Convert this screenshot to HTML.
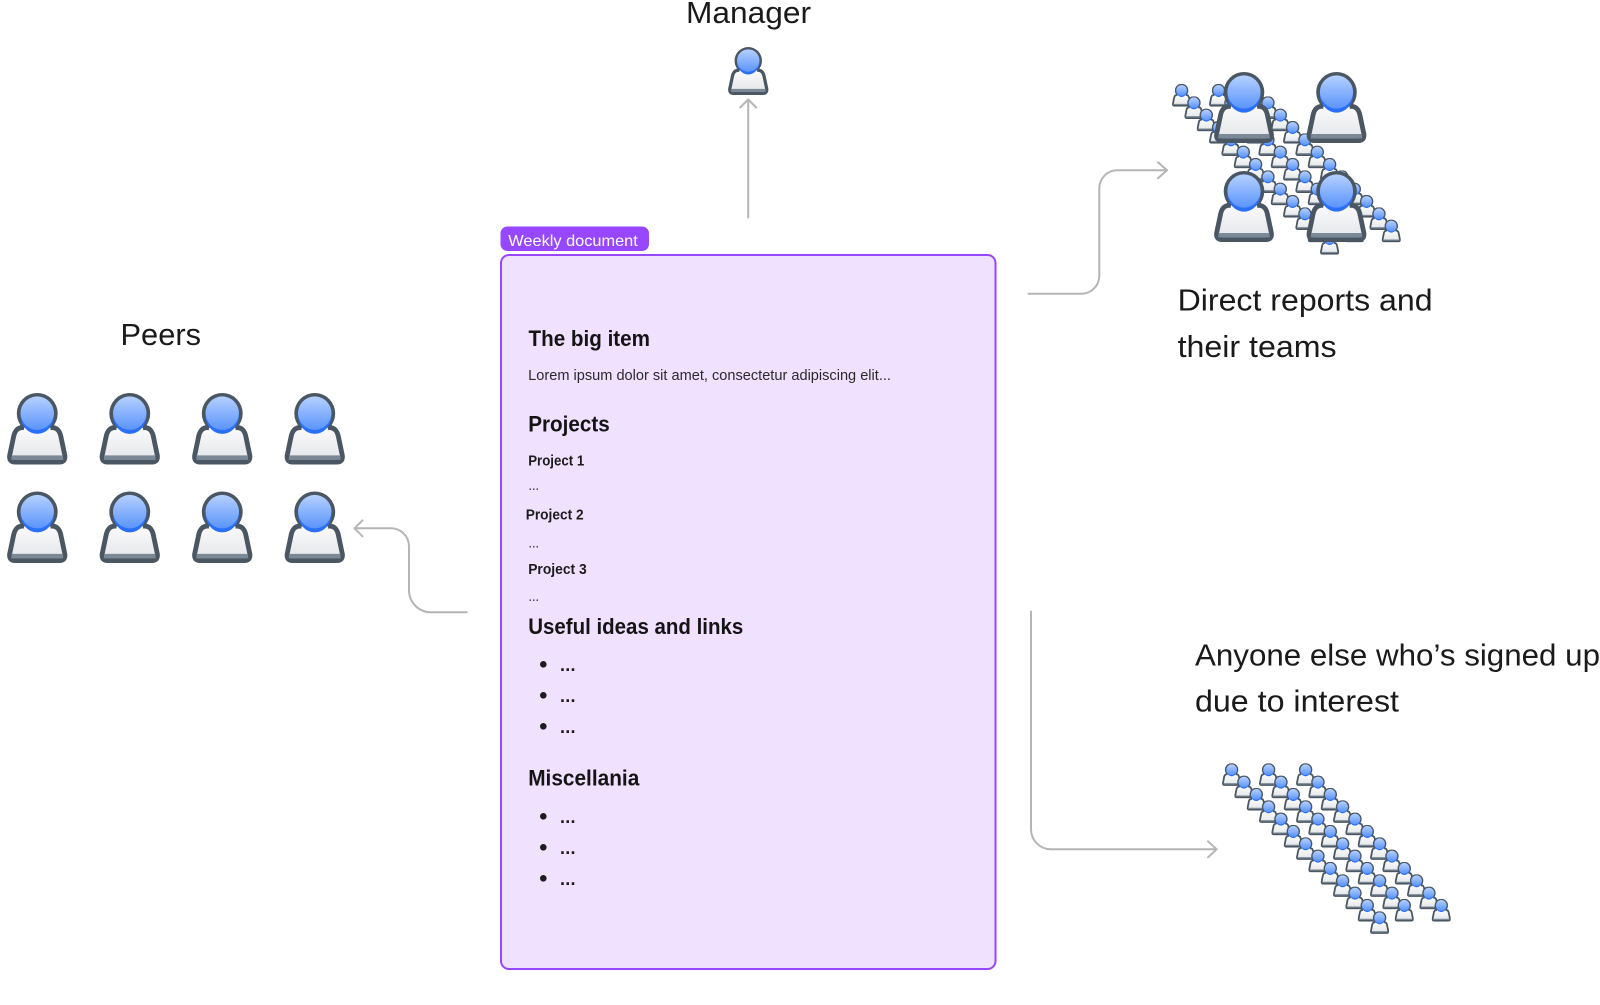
<!DOCTYPE html>
<html lang="en">
<head>
<meta charset="utf-8">
<title>Weekly document</title>
<style>
html,body{margin:0;padding:0;background:#fff;width:1600px;height:1005px;overflow:hidden}
svg{display:block}
text{font-family:"Liberation Sans",sans-serif;fill:#1a1a1a}
.h{font-size:22px;font-weight:700;fill:#141414}
.b{font-size:14.5px;font-weight:700;fill:#1c1c1c}
.d{font-size:18px;font-weight:700;fill:#1c1c1c}
.t{font-size:14.5px;fill:#2a2a2a}
.l{font-size:31px}
.arrow{fill:none;stroke:#b5b5b5;stroke-width:2;stroke-linecap:round;stroke-linejoin:round}
</style>
</head>
<body>
<svg width="1600" height="1005" viewBox="0 0 1600 1005" xmlns="http://www.w3.org/2000/svg">
<defs>
<linearGradient id="hg" gradientUnits="userSpaceOnUse" x1="0" y1="3" x2="0" y2="36"><stop offset="0" stop-color="#b6d1ff"/><stop offset="1" stop-color="#5c95fb"/></linearGradient>
<linearGradient id="bg" gradientUnits="userSpaceOnUse" x1="0" y1="34" x2="0" y2="66"><stop offset="0" stop-color="#fbfbfc"/><stop offset="1" stop-color="#e4e6e9"/></linearGradient>
<symbol id="p" viewBox="0 0 60 71">
<circle cx="30" cy="20.3" r="20.3" fill="#4a5763"/>
<path d="M17,34.5 C10.5,33.5 7.5,38 6.5,43.5 L2.6,62 Q1.9,68.6 8,68.6 H52 Q58.1,68.6 57.4,62 L53.5,43.5 C52.5,38 49.5,33.5 43,34.5" fill="url(#bg)" stroke="#4a5763" stroke-width="4.8" stroke-linejoin="round"/>
<path d="M4.6,62 H55.4 L55.8,66.4 H4.2 Z" fill="#7b8895"/>
<ellipse cx="30" cy="22.2" rx="16.6" ry="18.4" fill="#2a6ff8"/>
<circle cx="30" cy="20" r="16.6" fill="url(#hg)"/>
</symbol>
<symbol id="s" viewBox="0 0 60 71">
<circle cx="30" cy="20.3" r="21" fill="#4a5763"/>
<path d="M17,34.5 C10.5,33.5 7.5,38 6.5,43.5 L2.9,62 Q2.2,68 8,68 H52 Q57.8,68 57.1,62 L53.5,43.5 C52.5,38 49.5,33.5 43,34.5" fill="url(#bg)" stroke="#4a5763" stroke-width="5.6" stroke-linejoin="round"/>
<path d="M5,62 H55 L55.4,65.6 H4.6 Z" fill="#7b8895"/>
<ellipse cx="30" cy="22.2" rx="16.6" ry="18.4" fill="#2a6ff8"/>
<circle cx="30" cy="20" r="16.6" fill="url(#hg)"/>
</symbol>
<g id="crowd">
<use href="#s" x="0" y="0" width="19.2" height="22.7"/>
<use href="#s" x="12.33" y="12.33" width="19.2" height="22.7"/>
<use href="#s" x="24.67" y="24.67" width="19.2" height="22.7"/>
<use href="#s" x="37" y="37" width="19.2" height="22.7"/>
<use href="#s" x="49.33" y="49.33" width="19.2" height="22.7"/>
<use href="#s" x="61.67" y="61.67" width="19.2" height="22.7"/>
<use href="#s" x="74" y="74" width="19.2" height="22.7"/>
<use href="#s" x="86.33" y="86.33" width="19.2" height="22.7"/>
<use href="#s" x="98.67" y="98.67" width="19.2" height="22.7"/>
<use href="#s" x="111" y="111" width="19.2" height="22.7"/>
<use href="#s" x="123.33" y="123.33" width="19.2" height="22.7"/>
<use href="#s" x="135.67" y="135.67" width="19.2" height="22.7"/>
<use href="#s" x="148" y="148" width="19.2" height="22.7"/>
<use href="#s" x="37" y="0" width="19.2" height="22.7"/>
<use href="#s" x="49.33" y="12.33" width="19.2" height="22.7"/>
<use href="#s" x="61.67" y="24.67" width="19.2" height="22.7"/>
<use href="#s" x="74" y="37" width="19.2" height="22.7"/>
<use href="#s" x="86.33" y="49.33" width="19.2" height="22.7"/>
<use href="#s" x="98.67" y="61.67" width="19.2" height="22.7"/>
<use href="#s" x="111" y="74" width="19.2" height="22.7"/>
<use href="#s" x="123.33" y="86.33" width="19.2" height="22.7"/>
<use href="#s" x="135.67" y="98.67" width="19.2" height="22.7"/>
<use href="#s" x="148" y="111" width="19.2" height="22.7"/>
<use href="#s" x="160.33" y="123.33" width="19.2" height="22.7"/>
<use href="#s" x="172.67" y="135.67" width="19.2" height="22.7"/>
<use href="#s" x="74" y="0" width="19.2" height="22.7"/>
<use href="#s" x="86.33" y="12.33" width="19.2" height="22.7"/>
<use href="#s" x="98.67" y="24.67" width="19.2" height="22.7"/>
<use href="#s" x="111" y="37" width="19.2" height="22.7"/>
<use href="#s" x="123.33" y="49.33" width="19.2" height="22.7"/>
<use href="#s" x="135.67" y="61.67" width="19.2" height="22.7"/>
<use href="#s" x="148" y="74" width="19.2" height="22.7"/>
<use href="#s" x="160.33" y="86.33" width="19.2" height="22.7"/>
<use href="#s" x="172.67" y="98.67" width="19.2" height="22.7"/>
<use href="#s" x="185" y="111" width="19.2" height="22.7"/>
<use href="#s" x="197.33" y="123.33" width="19.2" height="22.7"/>
<use href="#s" x="209.67" y="135.67" width="19.2" height="22.7"/>
</g>
</defs>

<!-- Manager -->
<text class="l" x="686" y="23" textLength="125" lengthAdjust="spacingAndGlyphs">Manager</text>
<use href="#p" x="728" y="47" width="40.5" height="48"/>
<path class="arrow" d="M748.2,217.5 V99.5 M740.2,107.5 L748.2,99.5 L756.2,107.5"/>

<!-- Peers -->
<text class="l" x="120.5" y="345" textLength="80.5" lengthAdjust="spacingAndGlyphs">Peers</text>
<use href="#p" x="7" y="393" width="60.5" height="71.5"/>
<use href="#p" x="99.5" y="393" width="60.5" height="71.5"/>
<use href="#p" x="192" y="393" width="60.5" height="71.5"/>
<use href="#p" x="284.5" y="393" width="60.5" height="71.5"/>
<use href="#p" x="7" y="491.5" width="60.5" height="71.5"/>
<use href="#p" x="99.5" y="491.5" width="60.5" height="71.5"/>
<use href="#p" x="192" y="491.5" width="60.5" height="71.5"/>
<use href="#p" x="284.5" y="491.5" width="60.5" height="71.5"/>
<path class="arrow" d="M466.7,612.3 H431 A22,22 0 0 1 409,590.3 V546.3 A18,18 0 0 0 391,528.3 H354.5 M362.5,520.3 L354.5,528.3 L362.5,536.3"/>

<!-- Weekly document -->
<rect x="501" y="255" width="494.5" height="714" rx="8" fill="#f0e1ff" stroke="#9747ff" stroke-width="2"/>
<rect x="500.5" y="226.5" width="148.5" height="24.5" rx="7" fill="#9747ff"/>
<text x="508.3" y="246" font-size="16" style="fill:#fff" textLength="129.5" lengthAdjust="spacingAndGlyphs">Weekly document</text>

<text class="h" x="528.5" y="346" textLength="121.5" lengthAdjust="spacingAndGlyphs">The big item</text>
<text class="t" x="528.2" y="380" textLength="362.8" lengthAdjust="spacingAndGlyphs">Lorem ipsum dolor sit amet, consectetur adipiscing elit...</text>
<text class="h" x="528.2" y="431.5" textLength="81.5" lengthAdjust="spacingAndGlyphs">Projects</text>
<text class="b" x="528.2" y="465.3" textLength="56" lengthAdjust="spacingAndGlyphs">Project 1</text>
<text class="t" x="528.5" y="490" textLength="10.5" lengthAdjust="spacingAndGlyphs">...</text>
<text class="b" x="525.7" y="519.3" textLength="57.9" lengthAdjust="spacingAndGlyphs">Project 2</text>
<text class="t" x="528.5" y="547.3" textLength="10.5" lengthAdjust="spacingAndGlyphs">...</text>
<text class="b" x="528.2" y="574" textLength="58.5" lengthAdjust="spacingAndGlyphs">Project 3</text>
<text class="t" x="528.5" y="601" textLength="10.5" lengthAdjust="spacingAndGlyphs">...</text>

<text class="h" x="528.2" y="634" textLength="215.1" lengthAdjust="spacingAndGlyphs">Useful ideas and links</text>
<circle cx="543.3" cy="664.3" r="3.3" fill="#1c1c1c"/>
<circle cx="543.3" cy="695.3" r="3.3" fill="#1c1c1c"/>
<circle cx="543.3" cy="726.3" r="3.3" fill="#1c1c1c"/>
<text class="d" x="560" y="671" textLength="15.5">...</text>
<text class="d" x="560" y="702" textLength="15.5">...</text>
<text class="d" x="560" y="733" textLength="15.5">...</text>

<text class="h" x="528.2" y="785.5" textLength="111.1" lengthAdjust="spacingAndGlyphs">Miscellania</text>
<circle cx="543.3" cy="816.3" r="3.3" fill="#1c1c1c"/>
<circle cx="543.3" cy="847.3" r="3.3" fill="#1c1c1c"/>
<circle cx="543.3" cy="878.3" r="3.3" fill="#1c1c1c"/>
<text class="d" x="560" y="823" textLength="15.5">...</text>
<text class="d" x="560" y="854" textLength="15.5">...</text>
<text class="d" x="560" y="885" textLength="15.5">...</text>

<!-- Direct reports -->
<path class="arrow" d="M1028.5,293.7 H1081 A18,18 0 0 0 1099.3,275.7 V188.3 A18,18 0 0 1 1117.3,170.3 H1167 M1158,162.3 L1167,170.3 L1158,178.3"/>
<use href="#crowd" x="1172" y="84"/>
<use href="#p" x="1214" y="72" width="60" height="71"/>
<use href="#p" x="1306.5" y="72" width="60" height="71"/>
<use href="#p" x="1214" y="171" width="60" height="71"/>
<use href="#p" x="1306.5" y="171" width="60" height="71"/>
<text class="l" x="1177.6" y="310.5" textLength="255" lengthAdjust="spacingAndGlyphs">Direct reports and</text>
<text class="l" x="1177.6" y="357" textLength="159" lengthAdjust="spacingAndGlyphs">their teams</text>

<!-- Anyone else -->
<path class="arrow" d="M1031,611.5 V829.3 A20,20 0 0 0 1051,849.3 H1216.7 M1208,841.3 L1216.7,849.3 L1208,857.3"/>
<text class="l" x="1195" y="665.5" textLength="405" lengthAdjust="spacingAndGlyphs">Anyone else who’s signed up</text>
<text class="l" x="1195" y="711.5" textLength="204" lengthAdjust="spacingAndGlyphs">due to interest</text>
<use href="#crowd" x="1222" y="763.3"/>
</svg>
</body>
</html>
